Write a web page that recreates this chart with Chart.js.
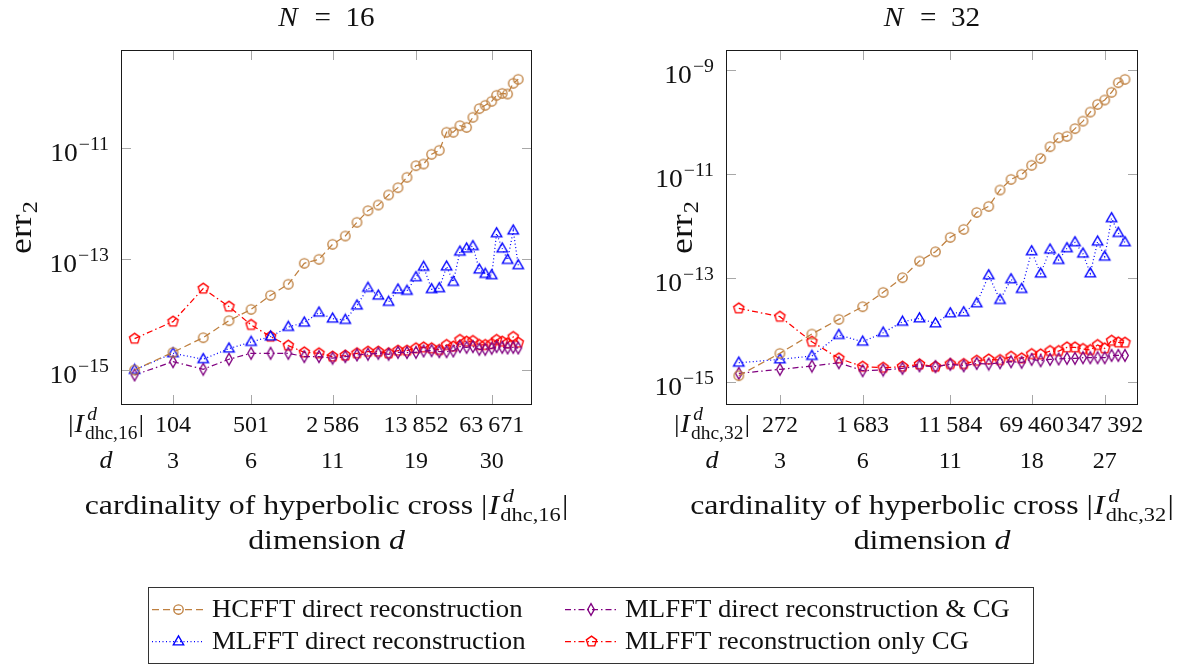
<!DOCTYPE html>
<html>
<head>
<meta charset="utf-8">
<script src="https://cdn.jsdelivr.net/npm/chart.js@4.4.0/dist/chart.umd.min.js"></script>
<style>
  body { margin: 0; background: #fff; }
  #wrap { position: relative; width: 1189px; height: 669px; overflow: hidden; background: #fff; }
  canvas { position: absolute; top: 0; }
</style>
</head>
<body>
<div id="wrap">
  <canvas id="chart16" width="594" height="580" style="left:0px"></canvas>
  <canvas id="chart32" width="595" height="580" style="left:594px"></canvas>
  <canvas id="legend" width="888" height="79" style="left:147px; top:586px"></canvas>
</div>
<script>
// ---- N = 16 : d = 2 .. 35 ----
const card16 = [48, 104, 191, 321, 501, 742, 1059, 1462, 1965, 2586, 3337, 4222, 5266, 6484,
  7985, 9634, 11548, 13852, 16152, 18973, 22137, 25666, 29346, 33549, 38371, 43591, 49513,
  55867, 63671, 70215, 78670, 87600, 98170, 108560];
const hcfft16 = [1.0e-15, 2.08e-15, 3.83e-15, 7.76e-15, 1.24e-14, 2.22e-14, 3.52e-14, 8.41e-14,
  9.93e-14, 1.85e-13, 2.62e-13, 4.62e-13, 7.50e-13, 9.48e-13, 1.44e-12, 1.95e-12, 3.00e-12,
  4.86e-12, 5.21e-12, 7.80e-12, 9.20e-12, 1.95e-11, 1.95e-11, 2.56e-11, 2.39e-11, 3.63e-11,
  5.20e-11, 5.97e-11, 7.05e-11, 9.04e-11, 9.82e-11, 9.55e-11, 1.49e-10, 1.76e-10];
const mlDirect16 = [1.0e-15, 2.00e-15, 1.56e-15, 2.43e-15, 3.20e-15, 4.00e-15, 5.97e-15, 7.14e-15,
  1.08e-14, 8.43e-15, 7.98e-15, 1.45e-14, 3.02e-14, 2.19e-14, 1.69e-14, 2.82e-14, 2.67e-14,
  4.70e-14, 7.23e-14, 2.86e-14, 2.98e-14, 7.33e-14, 3.87e-14, 1.36e-13, 1.55e-13, 1.71e-13,
  6.47e-14, 5.40e-14, 5.11e-14, 2.92e-13, 1.55e-13, 9.66e-14, 3.27e-13, 7.74e-14];
const mlDirectCG16 = [8.13e-16, 1.41e-15, 1.03e-15, 1.56e-15, 2.00e-15, 2.00e-15, 2.00e-15, 1.74e-15,
  1.74e-15, 1.63e-15, 1.74e-15, 1.87e-15, 1.92e-15, 2.00e-15, 1.92e-15, 2.08e-15, 2.06e-15,
  2.08e-15, 2.20e-15, 2.23e-15, 2.14e-15, 2.14e-15, 2.20e-15, 2.64e-15, 2.56e-15, 2.64e-15,
  2.36e-15, 2.36e-15, 2.46e-15, 2.64e-15, 2.56e-15, 2.49e-15, 2.56e-15, 2.49e-15];
const mlOnlyCG16 = [3.67e-15, 7.45e-15, 2.94e-14, 1.39e-14, 6.49e-15, 4.00e-15, 2.75e-15, 2.08e-15,
  2.00e-15, 1.74e-15, 1.82e-15, 2.00e-15, 2.14e-15, 2.14e-15, 2.00e-15, 2.23e-15, 2.23e-15,
  2.46e-15, 2.56e-15, 2.46e-15, 2.30e-15, 2.82e-15, 2.64e-15, 3.48e-15, 3.24e-15, 3.33e-15,
  2.82e-15, 2.82e-15, 2.94e-15, 3.48e-15, 3.24e-15, 3.03e-15, 3.94e-15, 3.11e-15];
const tickCard16 = [104, 501, 2586, 13852, 63671];
const tickDim16 = [3, 6, 11, 19, 30];
const yTicks16 = [1e-15, 1e-13, 1e-11];

// ---- N = 32 : d = 2 .. 30 ----
const card32 = [110, 272, 550, 996, 1683, 2642, 4043, 5875, 8356, 11584, 15580, 20740, 27010,
  34650, 44130, 55800, 69460, 84780, 104100, 126000, 151300, 180400, 215100, 252700, 297000,
  347392, 404200, 468100, 542000];
const hcfft32 = [1.31e-15, 3.52e-15, 8.30e-15, 1.59e-14, 2.79e-14, 5.27e-14, 1.01e-13, 2.11e-13,
  3.20e-13, 6.05e-13, 8.63e-13, 1.83e-12, 2.39e-12, 4.94e-12, 7.93e-12, 9.91e-12, 1.48e-11,
  2.01e-11, 3.38e-11, 5.04e-11, 5.35e-11, 7.52e-11, 1.05e-10, 1.57e-10, 2.21e-10, 2.68e-10,
  3.77e-10, 5.78e-10, 6.70e-10];
const mlDirect32 = [2.32e-15, 2.69e-15, 3.13e-15, 7.93e-15, 5.90e-15, 8.79e-15, 1.43e-14, 1.66e-14,
  1.33e-14, 2.07e-14, 2.17e-14, 3.24e-14, 1.12e-13, 3.75e-14, 9.38e-14, 6.11e-14, 3.25e-13,
  1.21e-13, 3.50e-13, 2.21e-13, 3.72e-13, 4.84e-13, 2.93e-13, 1.22e-13, 4.99e-13, 2.56e-13,
  1.41e-12, 7.33e-13, 4.84e-13];
const mlDirectCG32 = [1.45e-15, 1.73e-15, 2.00e-15, 2.32e-15, 1.63e-15, 1.68e-15, 1.81e-15, 2.03e-15,
  1.95e-15, 2.16e-15, 2.03e-15, 2.25e-15, 2.19e-15, 2.32e-15, 2.43e-15, 2.36e-15, 2.69e-15,
  2.54e-15, 2.69e-15, 2.74e-15, 2.82e-15, 2.82e-15, 2.90e-15, 2.90e-15, 2.90e-15, 2.90e-15,
  3.21e-15, 3.21e-15, 3.21e-15];
const mlOnlyCG32 = [2.59e-14, 1.79e-14, 5.90e-15, 2.82e-15, 1.95e-15, 1.86e-15, 1.95e-15, 2.16e-15,
  1.95e-15, 2.19e-15, 2.19e-15, 2.54e-15, 2.69e-15, 2.62e-15, 3.03e-15, 2.82e-15, 3.41e-15,
  3.37e-15, 3.90e-15, 3.90e-15, 4.59e-15, 4.59e-15, 4.27e-15, 4.08e-15, 5.09e-15, 4.39e-15,
  6.17e-15, 5.73e-15, 5.65e-15];
const tickCard32 = [272, 1683, 11584, 69460, 347392];
const tickDim32 = [3, 6, 11, 18, 27];
const yTicks32 = [1e-15, 1e-13, 1e-11, 1e-9];

const seriesNames = [
  "HCFFT direct reconstruction",
  "MLFFT direct reconstruction",
  "MLFFT direct reconstruction & CG",
  "MLFFT reconstruction only CG",
];

const SERIF = '"Liberation Serif", "Times New Roman", serif';
const looks = [
  { color: "#bf8040", dash: [7, 4], marker: "circle" },
  { color: "#0000ff", dash: [1, 2.5], marker: "triangle" },
  { color: "#800080", dash: [6, 3, 1.5, 3], marker: "diamond" },
  { color: "#ff0000", dash: [6, 3, 1.5, 3], marker: "pentagon" },
];

function markerCanvas(kind, color) {
  var c = document.createElement("canvas");
  if (kind === "diamond") { c.width = 10; c.height = 15; } else { c.width = 15; c.height = 15; }
  var g = c.getContext("2d");
  g.strokeStyle = color;
  g.lineWidth = 1.35;
  var cx = c.width / 2, cy = c.height / 2;
  g.beginPath();
  if (kind === "diamond") {
    g.moveTo(cx, cy - 5.8); g.lineTo(cx + 3.3, cy); g.lineTo(cx, cy + 5.8); g.lineTo(cx - 3.3, cy);
  } else if (kind === "pentagon") {
    for (var i = 0; i < 5; i++) {
      var a = -Math.PI / 2 + i * 2 * Math.PI / 5;
      var px = cx + 5.4 * Math.cos(a), py = cy + 5.4 * Math.sin(a);
      if (i === 0) g.moveTo(px, py); else g.lineTo(px, py);
    }
  } else if (kind === "triangle") {
    g.moveTo(cx, cy - 5.6); g.lineTo(cx + 5.2, cy + 3.4); g.lineTo(cx - 5.2, cy + 3.4);
  } else {
    g.arc(cx, cy, 4.7, 0, Math.PI * 2);
  }
  g.closePath();
  g.stroke();
  return c;
}
const markers = looks.map((l) => markerCanvas(l.marker, l.color));

function fmtCard(n) {
  return String(n).replace(/\B(?=(\d{3})+(?!\d))/g, "\u2009");
}

// text runs (for sub/superscripts); sx = horizontal stretch to mimic the wider TeX font
function runFont(r) {
  return (r.it ? "italic " : "") + (r.s || 24) + "px " + SERIF;
}
function runsWidth(ctx, runs) {
  var w = 0;
  runs.forEach((r) => {
    ctx.font = runFont(r);
    if (!r.over) w += ctx.measureText(r.t).width + (r.kern || 0);
  });
  return w;
}
function drawRuns(ctx, runs, x, y, align, sx) {
  sx = sx || 1;
  var w = runsWidth(ctx, runs) * sx;
  var x0 = align === "center" ? x - w / 2 : align === "right" ? x - w : x;
  ctx.save();
  ctx.translate(x0, y);
  ctx.scale(sx, 1);
  var cx = 0;
  runs.forEach((r) => {
    ctx.font = runFont(r);
    ctx.fillText(r.t, cx + (r.dx || 0), r.dy || 0);
    if (!r.over) cx += ctx.measureText(r.t).width + (r.kern || 0);
  });
  ctx.restore();
}
function cardRuns(N, size) {
  var s = size, ss = Math.round(s * 0.7);
  return [
    { t: "|", s: s, kern: 1 },
    { t: "I", it: true, s: s, kern: 1 },
    { t: "d", it: true, s: ss, dy: -Math.round(s * 0.45), over: true, dx: 2 },
    { t: "dhc," + N, s: ss, dy: Math.round(s * 0.25), kern: 1 },
    { t: "|", s: s },
  ];
}

function decor(cfg) {
  return {
    id: "decor",
    afterDraw(chart) {
      var ctx = chart.ctx, a = chart.chartArea;
      var xs = chart.scales.x, ys = chart.scales.y;
      ctx.save();
      ctx.lineWidth = 1;
      ctx.strokeStyle = "#a8a8a8";
      ctx.beginPath();
      cfg.xTicks.forEach((v) => {
        var px = Math.round(xs.getPixelForValue(v)) + 0.5;
        ctx.moveTo(px, a.top); ctx.lineTo(px, a.top + 10);
        ctx.moveTo(px, a.bottom); ctx.lineTo(px, a.bottom - 10);
      });
      cfg.yTicks.forEach((v) => {
        var py = Math.round(ys.getPixelForValue(v)) + 0.5;
        ctx.moveTo(a.left, py); ctx.lineTo(a.left + 10, py);
        ctx.moveTo(a.right, py); ctx.lineTo(a.right - 10, py);
      });
      ctx.stroke();
      ctx.strokeStyle = "#1a1a1a";
      ctx.strokeRect(a.left + 0.5, a.top + 0.5, a.right - a.left - 1, a.bottom - a.top - 1);

      ctx.fillStyle = "#111";
      ctx.textBaseline = "alphabetic";
      ctx.textAlign = "left";
      var midX = (a.left + a.right) / 2;

      // title
      drawRuns(ctx, [{ t: "N", it: true, s: 27, kern: 2 }, { t: "\u2002=\u2002" + cfg.N, s: 27 }],
        midX, 26, "center", 1.08);

      // y tick labels
      cfg.yTicks.forEach((v) => {
        var py = ys.getPixelForValue(v);
        var e = Math.round(Math.log10(v));
        drawRuns(ctx, [{ t: "10", s: 25, kern: 1 }, { t: "\u2212" + Math.abs(e), s: 18, dy: -11 }],
          a.left - 12, py + 13, "right", 1.1);
      });

      // y axis title
      ctx.save();
      ctx.translate(cfg.yTitleX, (a.top + a.bottom) / 2);
      ctx.rotate(-Math.PI / 2);
      drawRuns(ctx, [{ t: "err", s: 31, kern: 1 }, { t: "2", s: 21, dy: 6 }], 0, 9, "center", 1.15);
      ctx.restore();

      // x tick labels (cardinality row, dimension row)
      cfg.xTicks.forEach((v, i) => {
        var px = xs.getPixelForValue(v);
        drawRuns(ctx, [{ t: fmtCard(v), s: 24 }], px, 432, "center");
        drawRuns(ctx, [{ t: String(cfg.dims[i]), s: 24 }], px, 468, "center");
      });
      drawRuns(ctx, cardRuns(cfg.N, 26), cfg.rowLabelX, 432, "center", 1.08);
      drawRuns(ctx, [{ t: "d", it: true, s: 26 }], cfg.rowLabelX, 468, "center");

      // x axis title
      var line1 = [{ t: "cardinality of hyperbolic cross ", s: 27 }].concat(cardRuns(cfg.N, 27));
      drawRuns(ctx, line1, midX, 514, "center", 1.18);
      drawRuns(ctx, [{ t: "dimension ", s: 27 }, { t: "d", it: true, s: 27 }], midX, 549, "center", 1.18);
      ctx.restore();
    },
  };
}

function makeChart(id, cfg) {
  var ys = [cfg.hcfft, cfg.mlDirect, cfg.mlDirectCG, cfg.mlOnlyCG];
  var datasets = ys.map((vals, k) => ({
    label: seriesNames[k],
    data: cfg.card.map((c, i) => ({ x: c, y: vals[i] })),
    borderColor: looks[k].color,
    backgroundColor: "transparent",
    borderWidth: 1.25,
    borderDash: looks[k].dash,
    pointStyle: markers[k],
    pointRadius: 5,
    tension: 0,
  }));
  return new Chart(document.getElementById(id), {
    type: "line",
    data: { datasets: datasets },
    options: {
      responsive: false,
      devicePixelRatio: 1,
      animation: false,
      events: [],
      layout: { padding: { left: 0, top: 50, right: cfg.padRight, bottom: 0 } },
      plugins: { legend: { display: false }, tooltip: { enabled: false }, title: { display: false } },
      scales: {
        x: {
          type: "logarithmic",
          min: cfg.xMin,
          max: cfg.xMax,
          grid: { display: false },
          border: { display: false },
          ticks: { display: false },
          afterFit: (s) => { s.height = 175; },
        },
        y: {
          type: "logarithmic",
          min: cfg.yMin,
          max: cfg.yMax,
          grid: { display: false },
          border: { display: false },
          ticks: { display: false },
          afterFit: (s) => { s.width = cfg.yAxisWidth; },
        },
      },
    },
    plugins: [decor(cfg)],
  });
}

makeChart("chart16", {
  N: 16, card: card16, hcfft: hcfft16, mlDirect: mlDirect16, mlDirectCG: mlDirectCG16, mlOnlyCG: mlOnlyCG16,
  xTicks: tickCard16, dims: tickDim16, yTicks: yTicks16,
  xMin: 36.5, xMax: 143200, yMin: 2.33e-16, yMax: 5.94e-10,
  yAxisWidth: 121, padRight: 62, yTitleX: 22, rowLabelX: 106,
});
makeChart("chart32", {
  N: 32, card: card32, hcfft: hcfft32, mlDirect: mlDirect32, mlDirectCG: mlDirectCG32, mlOnlyCG: mlOnlyCG32,
  xTicks: tickCard32, dims: tickDim32, yTicks: yTicks32,
  xMin: 83, xMax: 722600, yMin: 3.56e-16, yMax: 2.46e-9,
  yAxisWidth: 132, padRight: 51, yTitleX: 89, rowLabelX: 118,
});

// legend
(function () {
  var c = document.getElementById("legend");
  var g = c.getContext("2d");
  g.strokeStyle = "#333";
  g.lineWidth = 1;
  g.strokeRect(1.5, 1.5, c.width - 3, c.height - 3);
  var slots = [
    { x: 5, y: 23 }, { x: 5, y: 55 }, { x: 418, y: 23 }, { x: 418, y: 55 },
  ];
  slots.forEach((p, k) => {
    g.save();
    g.strokeStyle = looks[k].color;
    g.lineWidth = 1.25;
    g.setLineDash(looks[k].dash);
    g.beginPath();
    g.moveTo(p.x, p.y + 0.5);
    g.lineTo(p.x + 52, p.y + 0.5);
    g.stroke();
    g.restore();
    var m = markers[k];
    g.drawImage(m, Math.round(p.x + 26 - m.width / 2), Math.round(p.y - m.height / 2));
    g.fillStyle = "#111";
    drawRuns(g, [{ t: seriesNames[k], s: 25 }], p.x + 60, p.y + 8, "left", 1.07);
  });
})();
</script>
</body>
</html>
